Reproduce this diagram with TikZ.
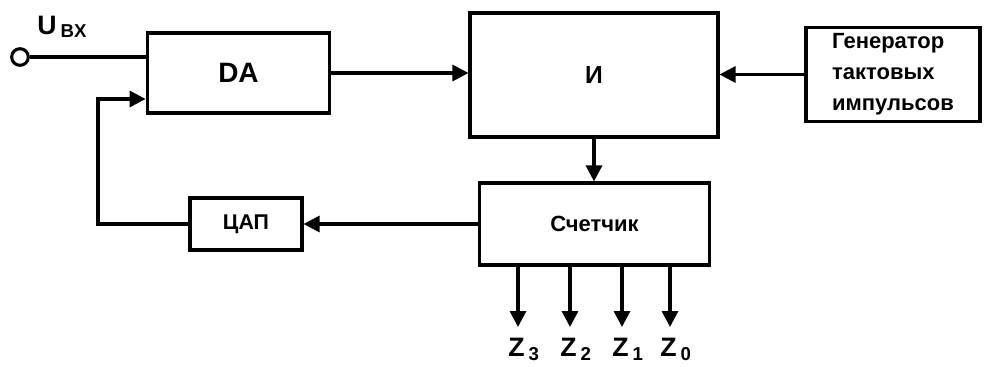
\documentclass[tikz,border=0pt]{standalone}
\usepackage{fontspec}
\setmainfont{Liberation Sans}
\usetikzlibrary{arrows.meta}
\tikzset{
  blk/.style={rectangle, draw, line width=2.3pt, inner sep=0pt},
  arr/.style={-{Triangle[length=12pt, width=12pt]}, line width=2.3pt},
  wire/.style={line width=2.3pt},
  lbl/.style={inner sep=0pt, font=\bfseries\fontsize{20}{22}\selectfont}
}
\newcommand{\sbx}[2]{\kern3pt\lower#1\hbox{\fontsize{14}{16}\selectfont #2}}
\begin{document}
\begin{tikzpicture}[x=0.75pt, y=-0.75pt]
    \useasboundingbox (0,0) rectangle (984,367);
    \draw (238.5,73) node[blk, minimum width=137pt, minimum height=60pt, font=\bfseries\fontsize{21}{24}\selectfont](da){DA}
        (594,75) node[blk, minimum width=186pt, minimum height=93pt, font=\bfseries\fontsize{18.5}{20}\selectfont](and){И}
        (893,74.5) node[blk, minimum width=130.5pt, minimum height=71pt, align=left, font=\bfseries\fontsize{16.5}{23.25}\selectfont](gen){Генератор\\тактовых\\импульсов}
        (594.5,224) node[blk, minimum width=172pt, minimum height=61.5pt, font=\bfseries\fontsize{16.5}{18}\selectfont](cnt){Счетчик}
        (246,224) node[blk, minimum width=84pt, minimum height=39pt, font=\bfseries\fontsize{16}{18}\selectfont](dac){ЦАП};
    \node[circle, draw, line width=2.3pt, minimum size=12.5pt, inner sep=0pt](in) at (20,57) {};
    \node[lbl, anchor=base west] (uin) at (37,35) {U\sbx{2.2pt}{BX}};
    \coordinate (fb) at (98,99);
    \draw[wire] (in.east) -- (in.east -| da.west);
    \draw[arr] (da.east) -- (da.east -| and.west);
    \draw[arr] (gen.west) -- (gen.west -| and.east);
    \draw[arr] (and.south) -- (and.south |- cnt.north);
    \draw[arr] (cnt.west) -- (cnt.west -| dac.east);
    \draw[arr] (dac.west) -| (fb) -- (fb -| da.west);
    \foreach \xx/\k in {518/3, 570/2, 622/1, 670/0} {
        \coordinate (z\k) at (\xx,327);
        \draw[arr] (cnt.south -| z\k) -- (z\k);
        \node[lbl, anchor=base west] (lz\k) at (\xx-10,356) {Z\sbx{3.5pt}{\k}};
    }
\end{tikzpicture}
\end{document}
